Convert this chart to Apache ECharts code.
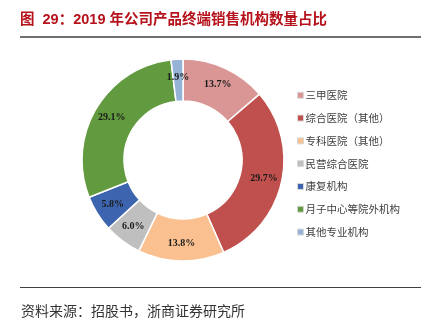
<!DOCTYPE html>
<html>
<head>
<meta charset="utf-8">
<script src="https://cdn.jsdelivr.net/npm/echarts@6/dist/echarts.min.js"></script>
<style>
  html, body { margin: 0; padding: 0; background: #fff; }
  #chart { width: 437px; height: 322px; }
</style>
</head>
<body>
<div id="chart"></div>
<script>
// Terminal sales institutions by type, 2019 (share, %)
const categories = ['三甲医院', '综合医院（其他）', '专科医院（其他）', '民营综合医院', '康复机构', '月子中心等院外机构', '其他专业机构'];
const shares = [13.7, 29.7, 13.8, 6.0, 5.8, 29.1, 1.9];
const sliceColors = ['#d99694', '#c0504d', '#fac090', '#bfbfbf', '#3d64ae', '#629b3f', '#95b3d7'];

const titleText = '图  29：2019 年公司产品终端销售机构数量占比';
const sourceText = '资料来源：招股书，浙商证券研究所';

const chart = echarts.init(document.getElementById('chart'), null, { renderer: 'canvas' });

chart.setOption({
  backgroundColor: '#ffffff',
  animation: false,
  color: sliceColors,
  legend: {
    orient: 'vertical',
    left: 292,
    top: 85,
    itemWidth: 6,
    itemHeight: 6,
    itemGap: 12.3,
    icon: 'rect',
    itemStyle: { borderColor: '#d9d9d9', borderWidth: 1 },
    textStyle: {
      fontFamily: '"Noto Sans CJK SC", serif',
      fontSize: 10.5,
      color: '#404040',
      padding: [0, 0, 0, -3]
    },
    data: categories
  },
  series: [{
    type: 'pie',
    center: [183, 160],
    radius: [59, 101],
    startAngle: 90,
    clockwise: true,
    avoidLabelOverlap: false,
    itemStyle: { borderColor: '#ffffff', borderWidth: 1.5 },
    label: {
      show: true,
      position: 'inside',
      formatter: p => p.value.toFixed(1) + '%',
      fontFamily: '"Liberation Serif", "Times New Roman", serif',
      fontWeight: 'bold',
      fontSize: 10,
      color: '#1a1a1a'
    },
    labelLine: { show: false },
    emphasis: { disabled: true },
    data: categories.map((name, i) => ({ name, value: shares[i] }))
  }],
  graphic: [
    {
      type: 'text',
      left: 20,
      top: 13,
      style: {
        text: titleText,
        fill: '#b5121b',
        font: 'bold 14.5px "Liberation Sans", "Noto Sans CJK SC", sans-serif'
      }
    },
    {
      type: 'line',
      shape: { x1: 20, y1: 37, x2: 421, y2: 37 },
      style: { stroke: '#404040', lineWidth: 1.5 }
    },
    {
      type: 'line',
      shape: { x1: 20, y1: 287.5, x2: 421, y2: 287.5 },
      style: { stroke: '#404040', lineWidth: 1 }
    },
    {
      type: 'text',
      left: 21,
      top: 304,
      style: {
        text: sourceText,
        fill: '#333333',
        font: '14px "Noto Sans CJK SC", serif'
      }
    }
  ]
});
</script>
</body>
</html>
